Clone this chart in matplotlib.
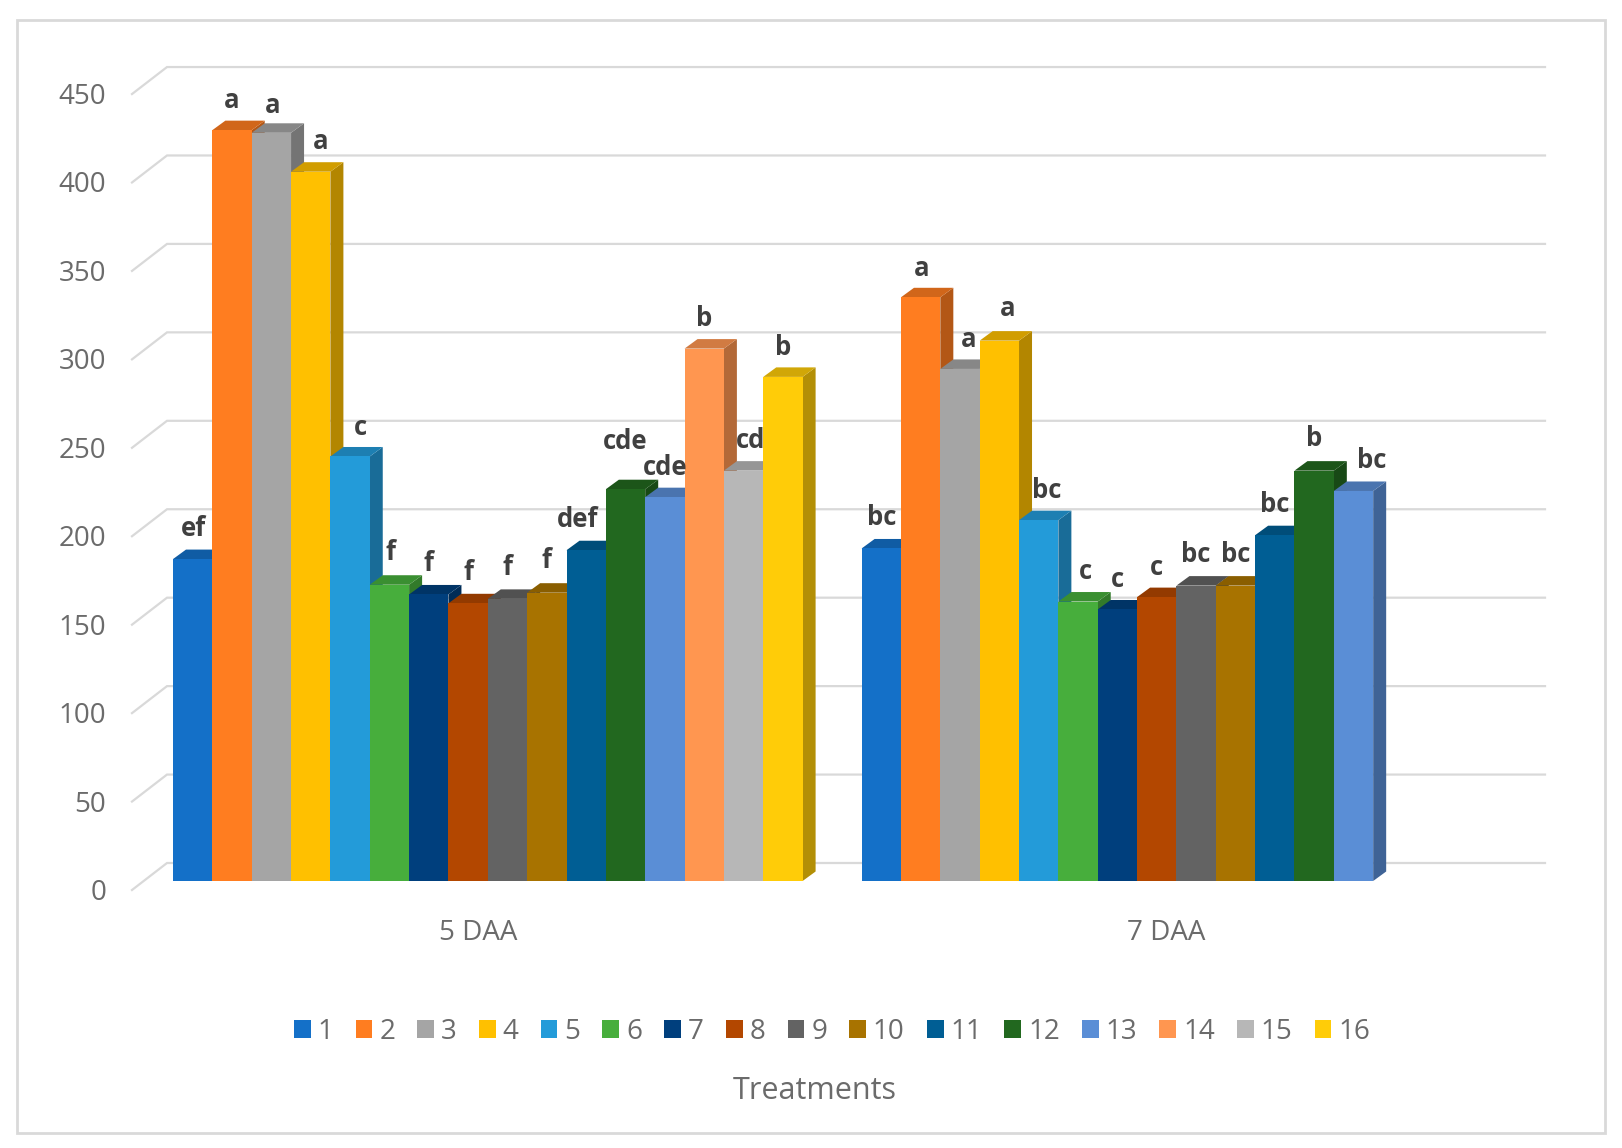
import numpy as np
import matplotlib
matplotlib.use('Agg')
import matplotlib.pyplot as plt
from matplotlib.patches import Rectangle, Patch

plt.rcParams['font.family'] = ['Open Sans', 'DejaVu Sans']

# data
groups = ['5 DAA', '7 DAA']
treatments = [str(i) for i in range(1, 17)]
vals_5 = [182, 424.5, 423, 401, 240, 167.5, 162, 157, 159.5, 163, 187, 221.5, 217, 301, 232, 285]
vals_7 = [188, 330, 289.5, 305.5, 204, 158, 153.5, 160.5, 167, 167, 195.5, 232, 220.5]
labels_5 = ['ef', 'a', 'a', 'a', 'c', 'f', 'f', 'f', 'f', 'f', 'def', 'cde', 'cde', 'b', 'cd', 'b']
labels_7 = ['bc', 'a', 'a', 'a', 'bc', 'c', 'c', 'c', 'bc', 'bc', 'bc', 'b', 'bc']
y_ticks = [0, 50, 100, 150, 200, 250, 300, 350, 400, 450]
colors = ['#1470C8', '#FF7D20', '#A5A5A5', '#FFC000', '#239BD9', '#47AE3C', '#003F7D', '#B34700',
          '#636363', '#A87300', '#005E94', '#22681F', '#5A8ED6', '#FF9650', '#B7B7B7', '#FFCC08']

# layout, pixels of the 1622x1148 picture
W, H = 1622, 1148
x0_px, y0_px = 173, 881      # front bottom left corner of first bar
bar_px = 39.35               # one bar is one x unit
val_px = 1.7688              # pixels for one y unit
gap = 1.5                    # space between groups, in bars
dep_x = 13 / bar_px          # depth of the bars
dep_y = 9.5 / val_px

# small shifts of the letters from the bar centre (bars) and extra height (y units)
shift_5 = [0.03, 0, 0.03, 0.24, 0.26, 0.03, 0, 0, 0, 0, -0.21, 0, 0, 0, 0.18, 0]
shift_7 = [0, 0.03, 0.21, 0.21, 0.21, 0.18, 0, 0, 0, 0, 0, 0, 0.45]
extra_5 = [0, -1, -3, -1, -2, 1, 0, 0, 1, 1, 0, 16, -1, -1, -1, -1]
extra_7 = [0, -2, -1, 1, -1, -1, -1, -1, 0, 0, 0, 1, 0]


def px_x(p):
    return (p - x0_px) / bar_px


def px_y(p):
    return (y0_px - p) / val_px


def darker(c, f):
    return tuple(np.array(matplotlib.colors.to_rgb(c)) * f)


fig = plt.figure(figsize=(W / 100, H / 100), dpi=100, facecolor='white')
ax = fig.add_axes([0, 0, 1, 1])
ax.set_xlim(px_x(0), px_x(W))
ax.set_ylim(px_y(H), px_y(0))
ax.axis('off')

# outer frame
ax.add_patch(Rectangle((px_x(17), px_y(1133)), px_x(1605) - px_x(17), px_y(20) - px_y(1133),
                       fill=False, ec='#d9d9d9', lw=2, zorder=0))

# gridlines, wall is slanted
wall_front = px_x(132)
wall_back = px_x(167)
wall_end = px_x(1545)
front_dy = px_y(890)
back_dy = px_y(863)
label_dy = px_y(893)
for t in y_ticks:
    ax.plot([wall_front, wall_back, wall_end], [t + front_dy, t + back_dy, t + back_dy],
            color='#d9d9d9', lw=1.6, zorder=1, solid_joinstyle='miter')
    ax.text(px_x(106), t + label_dy, str(t), ha='right', va='center', fontsize=20, color='#6b6b6b')


def draw_group(values, letters, shift, extra, start):
    z = 2
    for i, v in enumerate(values):
        x = start + i
        c = colors[i]
        ax.fill([x + 1, x + 1 + dep_x, x + 1 + dep_x, x + 1], [0, dep_y, v + dep_y, v],
                color=darker(c, 0.7), lw=0, zorder=z)
        ax.fill([x, x + dep_x, x + 1 + dep_x, x + 1], [v, v + dep_y, v + dep_y, v],
                color=darker(c, 0.82), lw=0, zorder=z + 0.1)
        ax.bar(x + 0.5, v, width=1, color=c, lw=0, zorder=z + 0.2)
        z += 1
    for i, v in enumerate(values):
        ax.text(start + i + 0.5 + shift[i], v + 17.4 + extra[i] * 0.585, letters[i], ha='center', va='center',
                fontsize=18.5, fontweight='bold', color='#404040', zorder=50)


draw_group(vals_5, labels_5, shift_5, extra_5, 0)
draw_group(vals_7, labels_7, shift_7, extra_7, len(vals_5) + gap)

# category names
ax.text(px_x(478), px_y(933), groups[0], ha='center', va='center', fontsize=20, color='#6b6b6b')
ax.text(px_x(1166), px_y(933), groups[1], ha='center', va='center', fontsize=20, color='#6b6b6b')
ax.text(px_x(815), px_y(1091), 'Treatments', ha='center', va='center', fontsize=22, color='#6b6b6b')

handles = [Patch(facecolor=c, edgecolor='none', label=t) for c, t in zip(colors, treatments)]
fig.legend(handles=handles, ncol=16, loc='center', bbox_to_anchor=(832 / W, 1 - 1032 / H), frameon=False,
           fontsize=20, labelcolor='#6b6b6b', handlelength=0.6, handleheight=0.6, handletextpad=0.25,
           columnspacing=0.8, borderpad=0, borderaxespad=0)

fig.savefig('out.png', dpi=100)
